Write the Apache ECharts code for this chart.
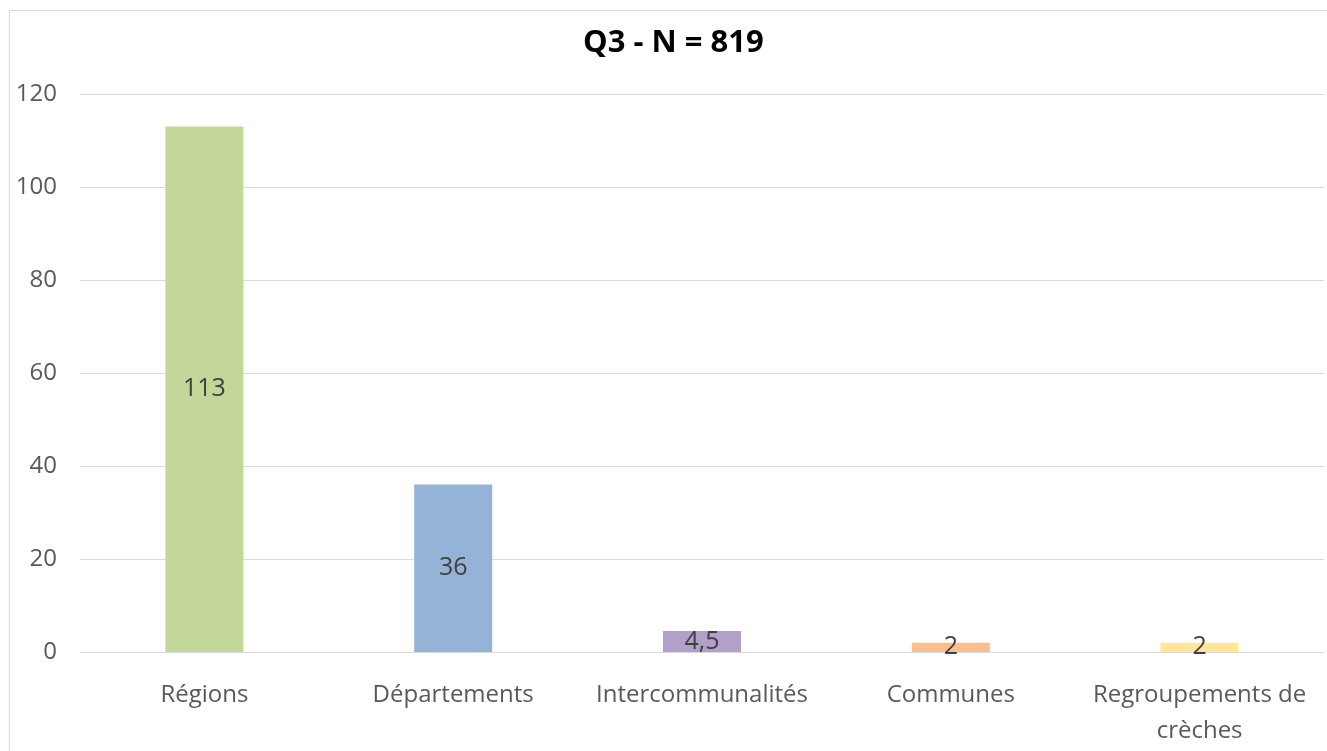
<!DOCTYPE html>
<html>
<head>
<meta charset="utf-8">
<script src="https://cdn.jsdelivr.net/npm/echarts@6/dist/echarts.min.js"></script>
<style>
html,body{margin:0;padding:0;background:#fff;}
#chart{width:1327px;height:751px;}
</style>
</head>
<body>
<div id="chart"></div>
<script>
const categories = ['Régions', 'Départements', 'Intercommunalités', 'Communes', 'Regroupements de\ncrèches'];
const values = [113, 36, 4.5, 2, 2];
const barColors = ['#C4D79B', '#95B3D7', '#B1A0C7', '#FABF8F', '#FFE699'];
const titleText = 'Q3 - N = 819';

const chart = echarts.init(document.getElementById('chart'));
const font = '"Open Sans", sans-serif';
chart.setOption({
  animation: false,
  graphic: [{
    type: 'rect', left: 7, top: 8, shape: {width: 1330, height: 780},
    style: {fill: 'none', stroke: '#d9d9d9', lineWidth: 1}, silent: true
  }],
  title: {
    text: titleText, left: 578, top: 23,
    textStyle: {fontFamily: font, fontWeight: 'bold', fontSize: 31, color: '#000'}
  },
  grid: {left: 80, right: 3, top: 94, bottom: 99},
  xAxis: {
    type: 'category', data: categories,
    axisLine: {lineStyle: {color: '#d9d9d9'}},
    axisTick: {show: false},
    axisLabel: {fontFamily: font, fontSize: 24, color: '#595959', margin: 25, lineHeight: 36, interval: 0}
  },
  yAxis: {
    type: 'value', min: 0, max: 120, interval: 20,
    axisLine: {show: false}, axisTick: {show: false},
    splitLine: {lineStyle: {color: '#d9d9d9'}},
    axisLabel: {fontFamily: font, fontSize: 24, color: '#595959', margin: 23}
  },
  series: [{
    type: 'bar', barWidth: 78,
    data: values.map((v, i) => ({value: v, itemStyle: {color: barColors[i]}})),
    label: {
      show: true, position: 'inside', fontFamily: font, fontSize: 25, color: '#404040',
      formatter: p => String(p.value).replace('.', ',')
    }
  }]
});
</script>
</body>
</html>
